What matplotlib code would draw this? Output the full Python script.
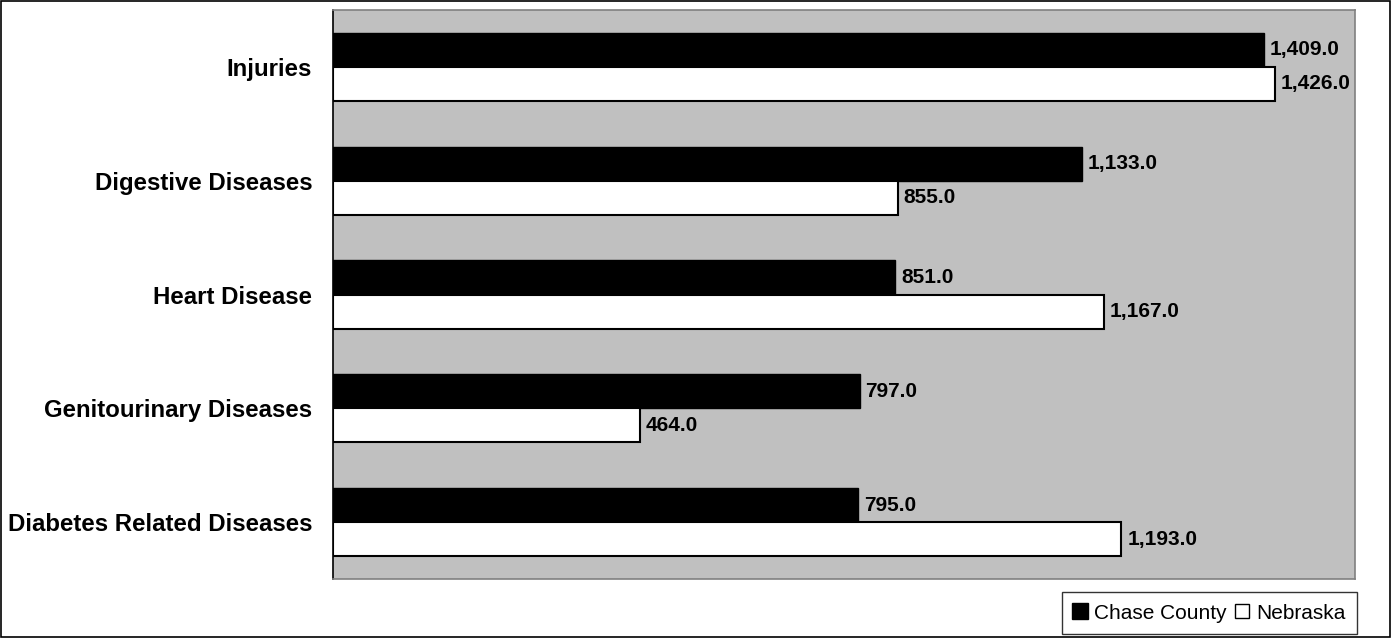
import matplotlib
matplotlib.use("Agg")
import matplotlib.pyplot as plt
import numpy as np
from matplotlib.lines import Line2D
from matplotlib.patches import Rectangle

plt.rcParams['font.family'] = ['Liberation Sans', 'DejaVu Sans']

# data, top to bottom
categories = ["Injuries", "Digestive Diseases", "Heart Disease",
              "Genitourinary Diseases", "Diabetes Related Diseases"]
chase = [1409.0, 1133.0, 851.0, 797.0, 795.0]
nebraska = [1426.0, 855.0, 1167.0, 464.0, 1193.0]
series_names = ["Chase County", "Nebraska"]

fig = plt.figure(figsize=(14, 6.38), dpi=100)
ax = fig.add_axes([0.2379, 0.0925, 0.73, 0.8918])
ax.set_facecolor('#C0C0C0')

y = np.arange(len(categories))
h = 0.3
ax.barh(y - h / 2, chase, height=h, color='black', edgecolor='black', linewidth=1)
ax.barh(y + h / 2, nebraska, height=h, color='white', edgecolor='black', linewidth=1.5)

for i in range(len(categories)):
    ax.text(chase[i] + 9, y[i] - h / 2, f"{chase[i]:,.1f}", va='center', ha='left',
            fontsize=15, fontweight='bold')
    ax.text(nebraska[i] + 9, y[i] + h / 2, f"{nebraska[i]:,.1f}", va='center', ha='left',
            fontsize=15, fontweight='bold')

ax.set_xlim(0, 1547)
ax.set_ylim(len(categories) - 0.5, -0.5)
ax.set_xticks([])
ax.set_yticks(y)
ax.set_yticklabels(categories, fontsize=17.3, fontweight='bold')
ax.tick_params(axis='y', length=0, pad=15)
for s in ['top', 'right', 'bottom']:
    ax.spines[s].set_color('#808080')
    ax.spines[s].set_linewidth(1.2)
ax.spines['left'].set_color('black')
ax.spines['left'].set_linewidth(1.2)

handles = [Line2D([], [], marker='s', linestyle='none', markersize=11,
                  markerfacecolor='black', markeredgecolor='black'),
           Line2D([], [], marker='s', linestyle='none', markersize=9.5,
                  markerfacecolor='white', markeredgecolor='black')]
leg = fig.legend(handles, series_names, loc='lower right', ncol=2,
                 bbox_to_anchor=(0.9693, 0.0063), fontsize=15, frameon=True,
                 fancybox=False, handlelength=0.6, handletextpad=0.4,
                 columnspacing=0.4, borderpad=0.55, borderaxespad=0)
leg.get_frame().set_edgecolor('black')
leg.get_frame().set_linewidth(1)

fig.patches.append(Rectangle((0.0007, 0.0016), 0.9922, 0.9968, transform=fig.transFigure,
                             fill=False, edgecolor='black', linewidth=1.2))

fig.savefig("out.png", dpi=100)
